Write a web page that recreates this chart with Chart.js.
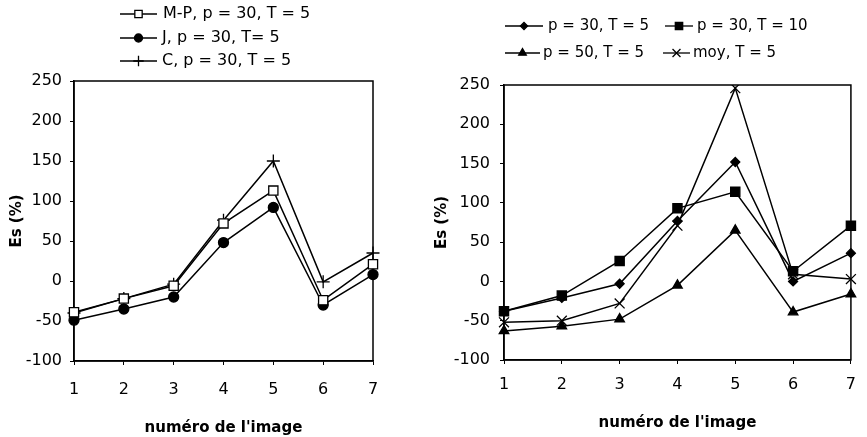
<!DOCTYPE html>
<html>
<head>
<meta charset="utf-8">
<script src="https://cdn.jsdelivr.net/npm/chart.js@4/dist/chart.umd.min.js"></script>
<style>
    html, body { margin: 0; padding: 0; background: #fff; }
    #cadreGraphes { position: relative; width: 867px; height: 437px; }
    #grafGauche { position: absolute; left: 0; top: 0; }
    #grafDroite { position: absolute; left: 430px; top: 0; }
</style>
</head>
<body>
<div id="cadreGraphes">
    <canvas id="grafGauche" width="430" height="437"></canvas>
    <canvas id="grafDroite" width="437" height="437"></canvas>
</div>
<script>
const images = ['1', '2', '3', '4', '5', '6', '7'];
const yMin = -100;
const yMax = 250;
const yPas = 50;

// graphique de gauche
const labelsGauche = ['M-P, p = 30, T = 5', 'J, p = 30, T= 5', 'C, p = 30, T = 5'];
const mpP30T5 = [-39, -22, -6, 72, 113, -24, 21];
const jP30T5 = [-49, -35, -20, 48, 92, -30, 8];
const cP30T5 = [-40, -22, -4, 76, 150, -1, 35];

// graphique de droite
const labelsDroite = ['p = 30, T = 5', 'p = 30, T = 10', 'p = 50, T = 5', 'moy, T = 5'];
const p30T5 = [-38, -21, -3, 77, 152, 0, 36];
const p30T10 = [-38, -18, 26, 93, 114, 13, 71];
const p50T5 = [-63, -57, -48, -5, 65, -39, -16];
const moyT5 = [-52, -50, -28, 71, 246, 9, 3];

const police = 'DejaVu Sans';

// cadre autour de la zone de tracé
const cadre = {
    id: 'cadre',
    beforeDatasetsDraw(chart) {
        const { ctx, chartArea: a } = chart;
        ctx.save();
        ctx.strokeStyle = '#000';
        ctx.lineWidth = 1.5;
        ctx.strokeRect(a.left, a.top, a.right - a.left, a.bottom - a.top);
        ctx.restore();
    }
};

// légende : trait + marqueur + texte
const legendeLignes = {
    id: 'legendeLignes',
    afterDraw(chart, args, opts) {
        const ctx = chart.ctx;
        ctx.save();
        ctx.font = opts.taille + 'px "' + police + '"';
        ctx.textBaseline = 'middle';
        chart.data.datasets.forEach((ds, i) => {
            const p = opts.positions[i];
            ctx.strokeStyle = '#000';
            ctx.lineWidth = 1.3;
            ctx.beginPath();
            ctx.moveTo(p.x0, p.y);
            ctx.lineTo(p.x1, p.y);
            ctx.stroke();
            ctx.fillStyle = ds.pointBackgroundColor;
            ctx.lineWidth = ds.pointBorderWidth;
            Chart.helpers.drawPoint(ctx, {
                pointStyle: ds.pointStyle,
                radius: ds.pointRadius * 0.8,
                borderWidth: ds.pointBorderWidth,
                rotation: 0
            }, (p.x0 + p.x1) / 2, p.y);
            ctx.fillStyle = '#000';
            ctx.fillText(ds.label, p.tx, p.y);
        });
        ctx.restore();
    }
};

function serie(label, data, style, rayon, fond) {
    return {
        label: label,
        data: data,
        borderColor: '#000',
        borderWidth: 1.5,
        tension: 0,
        fill: false,
        pointStyle: style,
        pointRadius: rayon,
        pointBackgroundColor: fond,
        pointBorderColor: '#000',
        pointBorderWidth: 1.3
    };
}

function options(conf) {
    return {
        responsive: false,
        animation: false,
        layout: { padding: { top: conf.haut, right: conf.droite, left: 0, bottom: 0 } },
        plugins: {
            legend: { display: false },
            tooltip: { enabled: false },
            legendeLignes: { positions: conf.legende, taille: conf.tailleLegende }
        },
        scales: {
            x: {
                type: 'category',
                offset: false,
                grid: { display: true, drawOnChartArea: false, drawTicks: true, tickLength: 4, color: '#000', offset: false },
                border: { display: true, color: '#000', width: 1.5 },
                ticks: { font: { family: police, size: 16 }, color: '#000', padding: conf.padX, maxRotation: 0, autoSkip: false },
                title: {
                    display: true,
                    text: "numéro de l'image",
                    color: '#000',
                    font: { family: police, size: 15, weight: 'bold' },
                    padding: { top: 0, bottom: conf.titreX }
                },
                afterFit(s) { s.height = conf.hautX; }
            },
            y: {
                min: yMin,
                max: yMax,
                grid: { display: true, drawOnChartArea: false, drawTicks: true, tickLength: 4, color: '#000' },
                border: { display: true, color: '#000', width: 1.5 },
                ticks: { stepSize: yPas, font: { family: police, size: 16 }, color: '#000', padding: conf.padY },
                title: {
                    display: true,
                    text: 'Es (%)',
                    color: '#000',
                    font: { family: police, size: 15, weight: 'bold' },
                    padding: { top: conf.titreY, bottom: 0 }
                },
                afterFit(s) { s.width = 74; }
            }
        }
    };
}

new Chart(document.getElementById('grafGauche').getContext('2d'), {
    type: 'line',
    data: {
        labels: images,
        datasets: [
            serie(labelsGauche[0], mpP30T5, 'rect', 6.5, '#fff'),
            serie(labelsGauche[1], jP30T5, 'circle', 5, '#000'),
            serie(labelsGauche[2], cP30T5, 'cross', 6.5, '#000')
        ]
    },
    options: options({
        haut: 81, droite: 57, hautX: 76, padX: 15, titreX: 0, padY: 8, titreY: 8,
        tailleLegende: 16,
        legende: [
            { x0: 120, x1: 157, y: 14, tx: 163 },
            { x0: 120, x1: 157, y: 38, tx: 162 },
            { x0: 120, x1: 157, y: 61, tx: 162 }
        ]
    }),
    plugins: [cadre, legendeLignes]
});

new Chart(document.getElementById('grafDroite').getContext('2d'), {
    type: 'line',
    data: {
        labels: images,
        datasets: [
            serie(labelsDroite[0], p30T5, 'rectRot', 4.5, '#000'),
            serie(labelsDroite[1], p30T10, 'rect', 6.5, '#000'),
            serie(labelsDroite[2], p50T5, 'triangle', 5.5, '#000'),
            serie(labelsDroite[3], moyT5, 'crossRot', 7, '#000')
        ]
    },
    options: options({
        haut: 85, droite: 9.5, hautX: 77, padX: 11, titreX: 5, padY: 10, titreY: 3,
        tailleLegende: 15,
        legende: [
            { x0: 75, x1: 113, y: 26, tx: 118 },
            { x0: 235, x1: 263, y: 26, tx: 267 },
            { x0: 75, x1: 110, y: 53, tx: 113 },
            { x0: 233, x1: 260, y: 53, tx: 263 }
        ]
    }),
    plugins: [cadre, legendeLignes]
});
</script>
</body>
</html>
